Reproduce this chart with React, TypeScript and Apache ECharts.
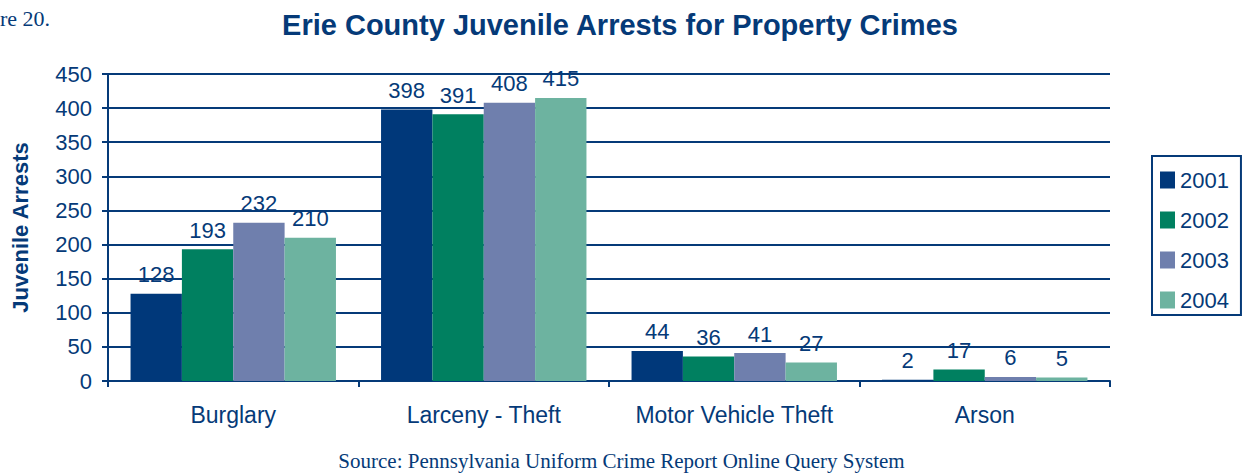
import React, { useEffect, useRef } from "react";
import * as echarts from "echarts";

const categories = ["Burglary", "Larceny - Theft", "Motor Vehicle Theft", "Arson"];
const years = ["2001", "2002", "2003", "2004"];
const values2001 = [128, 398, 44, 2];
const values2002 = [193, 391, 36, 17];
const values2003 = [232, 408, 41, 6];
const values2004 = [210, 415, 27, 5];
const seriesValues = [values2001, values2002, values2003, values2004];
const colors = ["#00387A", "#008060", "#6F7FAD", "#6DB3A0"];
const yTicks = { min: 0, max: 450, interval: 50 };

const NAVY = "#053A78";
const SANS = "'Liberation Sans', Arial, sans-serif";
const SERIF = "'Liberation Serif', 'Times New Roman', serif";

export default function App() {
  const ref = useRef<HTMLDivElement>(null);
  useEffect(() => {
    document.body.style.margin = "0";
    const chart = echarts.init(ref.current!, null, { renderer: "svg" });
    chart.setOption({
      animation: false,
      backgroundColor: "#ffffff",
      title: {
        text: "Erie County Juvenile Arrests for Property Crimes",
        left: 615,
        textAlign: "center",
        top: 5,
        textStyle: { fontFamily: SANS, fontSize: 29, fontWeight: "bold", color: NAVY },
      },
      graphic: [
        {
          type: "text",
          left: 0,
          top: 7,
          style: { text: "re 20.", font: `22px ${SERIF}`, fill: NAVY },
        },
        {
          type: "text",
          left: "center",
          top: 450,
          style: {
            text: "Source: Pennsylvania Uniform Crime Report Online Query System",
            font: `21px ${SERIF}`,
            fill: NAVY,
          },
        },
      ],
      legend: {
        data: years,
        orient: "vertical",
        left: 1152,
        top: 156,
        itemWidth: 15,
        itemHeight: 17,
        itemGap: 18,
        padding: [13, 12, 4, 8],
        borderColor: NAVY,
        borderWidth: 2,
        icon: "rect",
        textStyle: { fontFamily: SANS, fontSize: 22, color: NAVY },
      },
      grid: {
        left: 108,
        right: 133,
        top: 74,
        bottom: 93,
        containLabel: false,
        outerBoundsMode: "none",
      },
      xAxis: {
        type: "category",
        data: categories,
        axisLine: { lineStyle: { color: NAVY, width: 2 } },
        axisTick: { show: true, length: 6, interval: 0, lineStyle: { color: NAVY, width: 2 } },
        axisLabel: { interval: 0, fontFamily: SANS, fontSize: 23, color: NAVY, margin: 22 },
      },
      yAxis: {
        type: "value",
        min: yTicks.min,
        max: yTicks.max,
        interval: yTicks.interval,
        name: "Juvenile Arrests",
        nameLocation: "middle",
        nameGap: 77,
        nameTextStyle: { fontFamily: SANS, fontSize: 22, fontWeight: "bold", color: NAVY },
        axisLine: { show: true, lineStyle: { color: NAVY, width: 2 } },
        axisTick: { show: true, length: 6, lineStyle: { color: NAVY, width: 2 } },
        axisLabel: { fontFamily: SANS, fontSize: 22, color: NAVY, margin: 16 },
        splitLine: { show: true, lineStyle: { color: NAVY, width: 2 } },
      },
      series: years.map((y, i) => ({
        name: y,
        type: "bar",
        data: seriesValues[i],
        barGap: "0%",
        barCategoryGap: "18%",
        itemStyle: { color: colors[i] },
        label: {
          show: true,
          position: "top",
          distance: 8,
          fontFamily: SANS,
          fontSize: 22,
          color: NAVY,
        },
      })),
    });
    return () => chart.dispose();
  }, []);
  return (
    <div
      ref={ref}
      style={{ width: 1243, height: 474, position: "absolute", left: 0, top: 0 }}
    />
  );
}
